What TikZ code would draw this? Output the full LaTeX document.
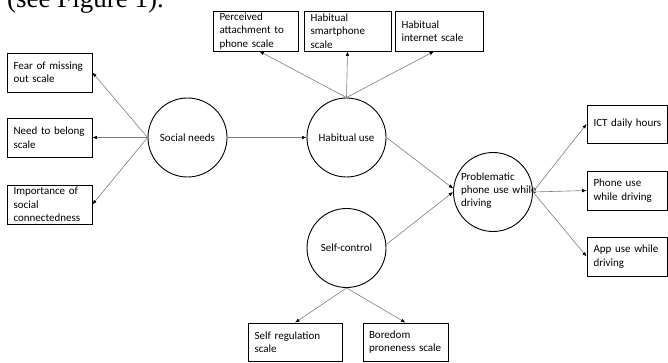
\documentclass[tikz,border=0pt]{standalone}
\usepackage{fontspec}
\setmainfont{Carlito}
\newfontfamily\serifhead{Liberation Serif}
\usetikzlibrary{arrows.meta,calc}
\begin{document}
\begin{tikzpicture}[x=1pt,y=-1pt,
  box/.style n args={3}{draw=black, line width=0.8pt, rectangle, minimum width=#1pt, minimum height=#2pt, text width=#3pt, align=left, inner sep=0pt, font=\fontsize{11}{13.5}\selectfont},
  circ/.style={draw=black, line width=0.9pt, circle, minimum size=79pt, inner sep=0pt, font=\fontsize{11}{13.5}\selectfont},
  conn/.style={draw={rgb,255:red,125;green,125;blue,125}, line width=0.6pt, -{Latex[length=4.5pt,width=3.5pt,color=black]}}]
\useasboundingbox (0,0) rectangle (668,363);
\clip (0,0) rectangle (668,363);
\node[anchor=base west, font=\serifhead\fontsize{27}{27}\selectfont, inner sep=0pt] (hdr) at (7,7.5) {(see Figure 1).};
% boxes
\node[box={85}{40}{72}] (perc) at (255.5,31) {Perceived\\attachment~to\\phone~scale};
\node[box={87}{40}{74}] (smart) at (347.5,31) {Habitual\\smartphone\\scale};
\node[box={88}{40}{75}] (inet) at (439,31) {Habitual\\internet~scale};
\node[box={85}{39}{72}] (fear) at (49.5,72.5) {Fear~of~missing\\out~scale};
\node[box={85}{39}{72}] (need) at (49.5,137.5) {Need~to~belong\\scale};
\node[box={85}{39}{72}] (imp) at (49.5,204.5) {Importance~of\\social\\connectedness};
\node[box={80.5}{38}{67.5}] (ict) at (627.25,124) {ICT~daily~hours};
\node[box={80.5}{39}{67.5}] (phone) at (627.25,190.5) {Phone~use\\while~driving};
\node[box={80.5}{39}{67.5}] (app) at (627.25,256.5) {App~use~while\\driving};
\node[box={94}{38}{81}] (sreg) at (295,342) {Self~regulation\\scale};
\node[box={85}{38}{73}] (bored) at (405.5,342) {Boredom\\proneness~scale};
% circles
\node[circ] (soc) at (187.5,137.5) {Social needs};
\node[circ] (hab) at (346.5,137.5) {Habitual use};
\node[circ] (selfc) at (346.5,248) {Self-control};
\node[circ, label={[xshift=8pt, yshift=1.5pt, align=left, text width=80pt, inner sep=0pt, font=\fontsize{11}{12.8}\selectfont]center:{Problematic\\phone~use~while\\driving}}] (prob) at (493,192) {};
% connectors
\draw[conn] (soc.west) -- (fear.east);
\draw[conn] (soc.west) -- (need.east);
\draw[conn] (soc.west) -- (imp.east);
\draw[conn] (soc.east) -- (hab.west);
\draw[conn] (hab.north) -- ($(perc.south)+(4,0)$);
\draw[conn] (hab.north) -- (smart.south);
\draw[conn] (hab.north) -- ($(inet.south)+(-5,0)$);
\draw[conn] (hab.east) -- (prob.175);
\draw[conn] (selfc.5) -- (prob.180);
\draw[conn] (selfc.south) -- (sreg.north);
\draw[conn] (selfc.south) -- (bored.north);
\draw[conn] (prob.east) -- (ict.west);
\draw[conn] (prob.east) -- (phone.west);
\draw[conn] (prob.east) -- (app.west);
\end{tikzpicture}
\end{document}
